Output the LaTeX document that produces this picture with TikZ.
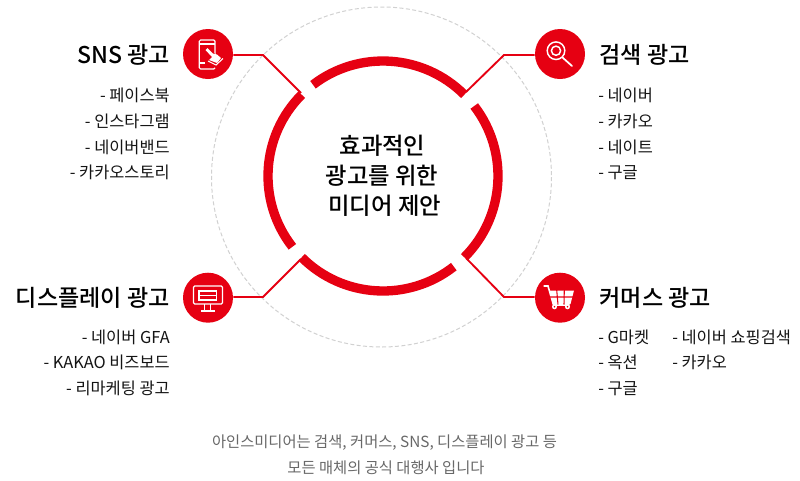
\documentclass[tikz,border=0pt]{standalone}
\usepackage{fontspec}
\usetikzlibrary{calc}
\setmainfont{Noto Sans CJK KR}
\newfontfamily\medfont{Noto Sans CJK KR Medium}
\definecolor{brandred}{HTML}{E60012}
\definecolor{greytext}{HTML}{686868}
\tikzset{
  ring/.style={draw=brandred,line width=7pt},
  leader/.style={draw=brandred,line width=1.4pt,line join=miter},
  badge/.style={circle,fill=brandred,minimum size=37.5pt,inner sep=0pt},
  head/.style={font=\fontsize{17.3}{20}\selectfont\medfont,text=black,inner sep=0pt},
  item/.style={font=\fontsize{12.3}{14}\selectfont,text=black!92,inner sep=0pt},
  midtext/.style={font=\fontsize{17.5}{20}\selectfont\medfont,text=black,inner sep=0pt},
  foot/.style={font=\fontsize{11.5}{14}\selectfont,text=greytext,inner sep=0pt},
  ico/.style={draw=white,line width=0.9pt},
}
\begin{document}
\begin{tikzpicture}[x=0.75pt,y=-0.75pt]
\useasboundingbox (0,0) rectangle (800,480);
\fill[white] (0,0) rectangle (800,480);
\coordinate (c) at (383,176);
\coordinate (dc) at (381.5,177);
\draw[black!18,line width=0.75pt,dash pattern=on 3pt off 1.8pt] (dc) circle[radius=170];
\draw[ring] ($(c)+(-45:115)$) arc[start angle=-45,end angle=-127.5,radius=115];
\draw[ring] ($(c)+(-37.5:115)$) arc[start angle=-37.5,end angle=45,radius=115];
\draw[ring] ($(c)+(52:115)$) arc[start angle=52,end angle=135,radius=115];
\draw[ring] ($(c)+(142:115)$) arc[start angle=142,end angle=225,radius=115];
% badges
\node[badge] (sns) at (208,54) {};
\node[badge] (search) at (560,54) {};
\node[badge] (disp) at (208,297.7) {};
\node[badge] (comm) at (560,297.7) {};
% leaders
\coordinate (e1) at (301,93);
\coordinate (e2) at (466,92);
\coordinate (e3) at (301,259);
\coordinate (e4) at (466,258);
\draw[leader] (sns.east|-0,55) -- (263,55) -- (e1);
\draw[leader] (search.west|-0,55) -- (504,55) -- (e2);
\draw[leader] (disp.east|-0,297) -- (263,297) -- (e3);
\draw[leader] (comm.west|-0,297) -- (504,297) -- (e4);
% phone icon
\draw[ico,rounded corners=1pt] (199.3,40) rectangle (215,69);
\draw[ico] (199.3,44) -- (215,44) (199.3,63) -- (215,63);
\fill[brandred] (205,47) -- (224,60) -- (216,68) -- (205,64) -- cycle;
\fill[white] (205.5,50) -- (207.5,48) -- (213,53.5) -- (217,54.5) -- (221,58) -- (217,63) -- (209,60) -- (212,57) -- cycle;
\draw[white,line width=0.8pt] (208,61) -- (216,65) -- (223,58.5);
% search icon
\draw[ico,line width=1.1pt] (556,50.7) circle[radius=8.8];
\draw[ico,line width=1.1pt] (556,50.7) circle[radius=4.6];
\draw[ico,line width=1.3pt,line cap=round] (562.5,57.5) -- (572,66);
% monitor icon
\draw[ico,rounded corners=1pt] (193.5,286) rectangle (222.5,304);
\draw[ico] (199,291) rectangle (216.5,300) (199,295.5) -- (216.5,295.5);
\draw[ico] (204.5,304) -- (204.5,311) (210.5,304) -- (210.5,311);
\draw[ico] (201,311) -- (214.5,311);
% cart icon
\draw[ico,line width=1.2pt] (543.5,286) -- (548,286) -- (553.5,305) -- (569.5,305);
\fill[white] (549.5,290.5) -- (574,290.5) -- (570.5,304) -- (553,304) -- cycle;
\draw[brandred,line width=0.8pt] (556.7,290) -- (558,304.5) (564.3,290) -- (564,304.5) (550,297) -- (573,297);
\fill[white] (554.5,306.8) circle[radius=2.5] (567.5,306.8) circle[radius=2.5];
\fill[brandred] (554.5,306.8) circle[radius=0.9] (567.5,306.8) circle[radius=0.9];
% headings
\node[head,anchor=east] (h1) at (170,55) {SNS 광고};
\node[head,anchor=west] (h2) at (599.5,55) {검색 광고};
\node[head,anchor=east] (h3) at (170,298) {디스플레이 광고};
\node[head,anchor=west] (h4) at (599.5,298) {커머스 광고};
% items
\node[item,anchor=east] (a1) at (170,95.5) {- 페이스북};
\node[item,anchor=east] (a2) at (170,121) {- 인스타그램};
\node[item,anchor=east] (a3) at (170,147) {- 네이버밴드};
\node[item,anchor=east] (a4) at (170,172.5) {- 카카오스토리};
\node[item,anchor=west] (b1) at (598,95.5) {- 네이버};
\node[item,anchor=west] (b2) at (598,121) {- 카카오};
\node[item,anchor=west] (b3) at (598,147) {- 네이트};
\node[item,anchor=west] (b4) at (598,172.5) {- 구글};
\node[item,anchor=east] (d1) at (170,337) {- 네이버 GFA};
\node[item,anchor=east] (d2) at (170,362.5) {- KAKAO 비즈보드};
\node[item,anchor=east] (d3) at (170,388.5) {- 리마케팅 광고};
\node[item,anchor=west] (m1) at (598,337) {- G마켓};
\node[item,anchor=west] (m2) at (598,362.5) {- 옥션};
\node[item,anchor=west] (m3) at (598,388.5) {- 구글};
\node[item,anchor=west] (m4) at (672,337) {- 네이버 쇼핑검색};
\node[item,anchor=west] (m5) at (672,362.5) {- 카카오};
% centre
\node[midtext] (t1) at (382.5,146) {효과적인};
\node[midtext] (t2) at (382,176) {광고를 위한};
\node[midtext] (t3) at (384.7,206) {미디어 제안};
% foot
\node[foot] (f1) at (384.5,443) {아인스미디어는 검색, 커머스, SNS, 디스플레이 광고 등};
\node[foot] (f2) at (386,467.5) {모든 매체의 공식 대행사 입니다};
\end{tikzpicture}
\end{document}
